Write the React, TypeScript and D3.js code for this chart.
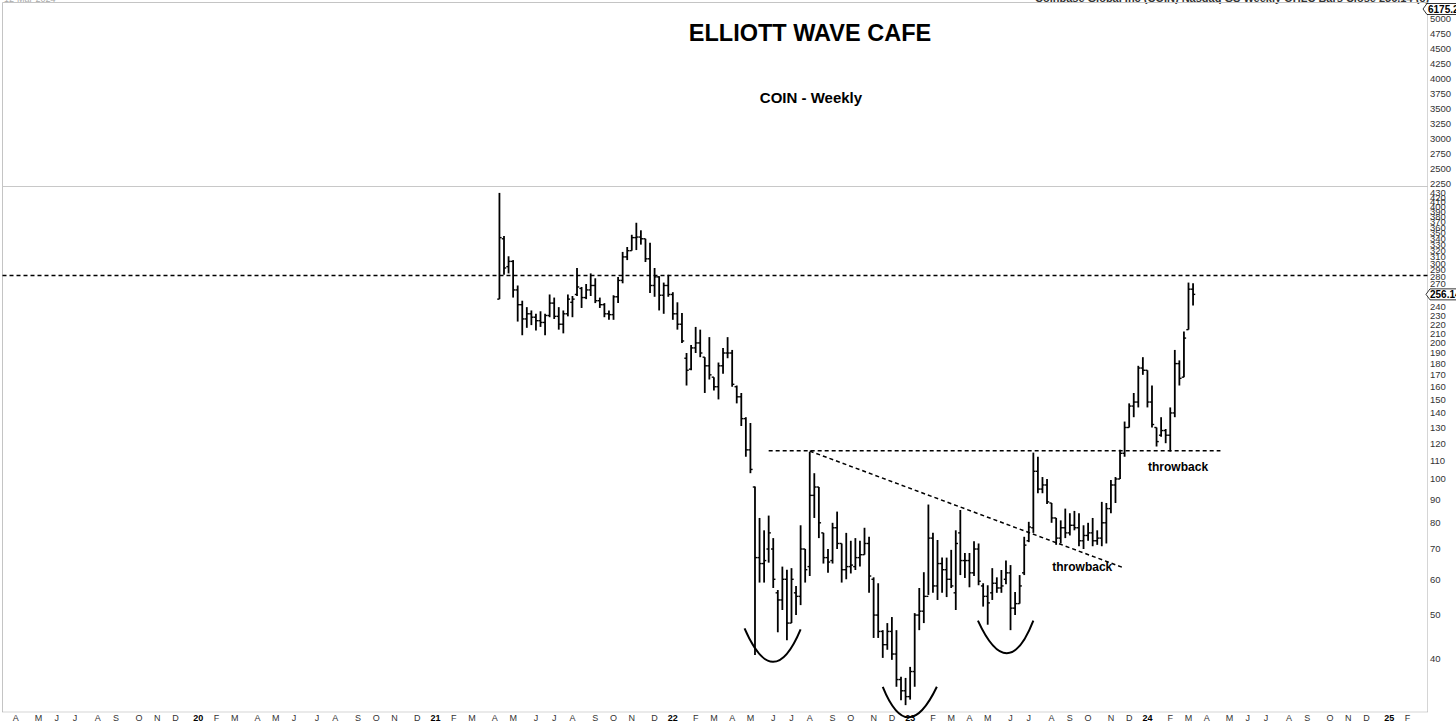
import React from "react";
import * as d3 from "d3";

// ---------- DATA (weekly bars, Monday of each week) ----------
const firstWeek = new Date(2021, 3, 12);
const afterLastWeek = new Date(2024, 2, 12);

const open = [
  250, 340, 295, 303, 262, 243, 226, 232, 228, 224, 222, 230, 245, 229, 220, 232,
  246, 256, 264, 252, 262, 268, 248, 243, 232, 231, 253, 275, 310, 320, 342, 343,
  340, 307, 268, 280, 255, 268,
  256, 232, 220, 185, 175, 195, 200, 186, 178, 168, 160, 178, 190, 190, 160, 152,
  136, 116, 96, 67, 65, 70, 70, 56, 54, 60, 48, 56, 55, 70, 64, 92,
  96, 76, 67, 66, 78, 72, 63, 64, 64, 67, 68, 72, 60, 50, 46, 43,
  46, 41, 36, 34,
  33, 37.5, 50, 51, 55, 74, 58, 65, 63, 60, 56, 76, 66, 66, 62, 70,
  58, 55, 56, 58.8, 57.4, 60, 62, 51.8, 53, 62, 73, 78, 104, 95, 97, 88.5,
  82, 74, 78, 76, 79, 78, 73, 75, 76, 73, 74, 80, 86, 97, 100, 114,
  130, 145, 148, 176,
  174, 148, 130, 125, 128, 125, 140, 180, 168, 214, 263,
];
const high = [
  429.5, 345, 311, 305, 268, 248, 240, 236, 232, 235, 232, 256, 252, 240, 236, 256,
  254, 293, 266, 270, 285, 278, 252, 245, 236, 255, 280, 318, 326, 347, 368.9, 355,
  340, 333, 293, 281, 272, 283,
  259, 246, 233, 190, 198, 217, 214, 186, 206, 168, 181, 195, 206, 193, 161, 155,
  137, 133, 96.2, 82, 77, 83, 74, 56.8, 64, 63, 63.5, 58, 79, 70, 114.8, 103,
  96, 76, 70, 80, 84.7, 72, 76, 73, 74, 73, 78, 74.5, 60.6, 58.8, 46.3, 48,
  49.5, 46.3, 36.5, 36.3,
  38.4, 50.5, 57.4, 62.2, 87.8, 76, 73.3, 67, 67, 69.7, 77, 85.4, 68.6, 68.6, 72.8, 72,
  58.8, 58.2, 63.5, 60.6, 62.9, 66, 64.5, 56.2, 61.3, 74.5, 80.4, 114.4, 112, 101, 100, 88.5,
  82, 81, 86, 84, 85, 84, 79, 80, 82, 77, 89, 88.5, 99.5, 101, 116, 134,
  147, 155, 178, 186,
  174, 161, 130, 137, 129, 144, 193, 183, 212, 272, 271,
];
const low = [
  250, 283, 285, 252, 223, 208, 216, 219, 213, 217, 208, 228, 226, 214, 210, 229,
  228, 254, 239, 250, 254, 245, 239, 228, 225, 225, 245, 271, 305, 320, 321, 330,
  302, 258, 253, 236, 232, 253,
  225, 214, 200, 161, 174, 190, 186, 155, 166, 157, 150, 171, 185, 160, 147, 131,
  112, 103, 40.8, 59, 59, 65.3, 57.4, 45.8, 51.3, 44, 48, 50, 52.6, 59, 61, 82,
  74, 65, 62, 65, 70, 59, 60, 61.8, 62.9, 64, 68, 56, 44.5, 44.5, 40.2, 41.9,
  39.8, 34.7, 32.4, 31.6,
  32.5, 34.7, 46.3, 48, 55.4, 56, 54, 56, 54.8, 57.4, 51.3, 61.3, 60.4, 57.6, 61, 58.2,
  52.2, 47.6, 54, 56, 56, 58.5, 46.3, 50, 53, 61.3, 72.5, 76, 93, 93, 88, 80,
  71.5, 72, 74, 75, 77, 71, 70, 73, 71, 71.5, 71, 72, 84, 88.5, 100, 112,
  130, 137, 144, 170,
  144, 130, 118, 124, 120, 115, 137, 161, 168, 214, 242,
];
const close = [
  342, 293, 303, 262, 243, 226, 232, 228, 224, 222, 230, 245, 229, 220, 232, 250,
  250, 266, 252, 262, 268, 248, 243, 232, 231, 253, 275, 310, 320, 342, 343, 340,
  307, 268, 280, 255, 268, 256,
  232, 220, 202, 174, 195, 200, 190, 178, 170, 160, 178, 190, 190, 162, 152, 136,
  116, 105, 67, 65, 66, 76, 60, 54, 60, 48, 60, 55, 70, 63, 92, 96,
  80, 67, 65.5, 78, 72, 63, 64, 64.5, 67, 68, 72, 61, 50, 46, 43, 46,
  41, 36, 34, 33,
  37.5, 50, 51, 55, 74, 58, 65, 63, 60, 58, 72, 66, 66, 62, 70, 59.4,
  55, 53.2, 58.8, 57.4, 58, 62, 51.8, 53, 58, 71.4, 78.3, 104, 95, 97, 89, 82,
  74, 78, 76, 79, 78, 73, 75, 76, 73, 74, 80, 86, 97, 100, 114, 130,
  145, 148, 176, 174,
  148, 132, 121, 128, 125, 140, 180, 167, 205, 263, 256.14,
];

const lastPrice = 256.14;
const topPanelLast = "6175.2";
const priceTicks = [
  40, 50, 60, 70, 80, 90, 100, 110, 120, 130, 140, 150, 160, 170, 180, 190, 200,
  210, 220, 230, 240, 250, 260, 270, 280, 290, 300, 310, 320, 330, 340, 350, 360,
  370, 380, 390, 400, 410, 420, 430,
];
const topTicks = [2250, 2500, 2750, 3000, 3250, 3500, 3750, 4000, 4250, 4500, 4750, 5000];
const monthLetters = ["J", "F", "M", "A", "M", "J", "J", "A", "S", "O", "N", "D"];

// annotations (date, price)
const resistancePrice = 282;
const neckline = { from: "2022-05-30", to: "2024-04-22", price: 115.5 };
const trendline = [["2022-08-01", 115.3], ["2023-11-27", 63.5]] as [string, number][];
const bowls: [string, number][][] = [
  [["2022-04-23", 46.7], ["2022-06-06", 39.4], ["2022-07-18", 46.5]],
  [["2022-11-21", 34.7], ["2022-12-29", 29.7], ["2023-02-12", 34.7]],
  [["2023-04-16", 48.6], ["2023-06-01", 41.15], ["2023-07-10", 48.6]],
];
const notes = [
  { text: "throwback", date: "2024-02-17", price: 103.9 },
  { text: "throwback", date: "2023-09-23", price: 62.5 },
];

const parse = (s: string) => {
  const [a, b, c] = s.split("-").map(Number);
  return new Date(a, b - 1, c);
};

const FONT = "'Liberation Sans', Arial, Helvetica, sans-serif";

export default function App() {
  const weeks = d3.timeMonday.range(firstWeek, afterLastWeek);
  const x = d3
    .scaleTime()
    .domain([new Date(2020, 0, 1), new Date(2025, 0, 1)])
    .range([195, 195 + 0.6519 * 1827]);
  const y = d3
    .scaleLog()
    .domain([100, 430])
    .range([479, 479 - 452 * Math.log10(4.3)]);
  const yTop = d3.scaleLinear().domain([2250, 5000]).range([183.3, 19]);

  const plotL = 2.5, plotR = 1427.5, plotT = 2.5, plotB = 712, sep = 186.5;

  const months = d3.timeMonth.range(new Date(2019, 3, 1), new Date(2025, 2, 1));
  const yLast = y(lastPrice);
  const visibleTicks = priceTicks.filter((t) => Math.abs(y(t) - yLast) > 6);

  const boxPath = (x0: number, yc: number) =>
    `M${x0},${yc} L${x0 + 4},${yc - 5.5} L1462,${yc - 5.5} L1462,${yc + 5.5} L${x0 + 4},${yc + 5.5} Z`;

  const bowlPath = (pts: [string, number][]) => {
    const p = pts.map(([d, v]) => [x(parse(d)), y(v)]);
    const cx = p[1][0];
    const cy = 2 * p[1][1] - (p[0][1] + p[2][1]) / 2;
    return `M${p[0][0]},${p[0][1]} Q${cx},${cy} ${p[2][0]},${p[2][1]}`;
  };

  return (
    <svg
      width={1456}
      height={725}
      style={{ position: "absolute", left: 0, top: 0, background: "#fff" }}
      fontFamily={FONT}
    >
      <rect x={0} y={0} width={1456} height={725} fill="#fff" />
      {/* clipped header text */}
      <text x={1035} y={2.2} fontSize={11} fontWeight="bold" fill="#333">
        Coinbase Global Inc (COIN) Nasdaq GS  Weekly  OHLC Bars  Close 256.14  (c)
      </text>
      <text x={4} y={1.5} fontSize={9} fill="#aaa">
        12-Mar-2024
      </text>

      {/* frame */}
      <line x1={plotL} y1={plotT} x2={plotR} y2={plotT} stroke="#c4c4c4" />
      <line x1={plotL} y1={plotT} x2={plotL} y2={plotB} stroke="#c4c4c4" />
      <line x1={plotL} y1={sep} x2={plotR} y2={sep} stroke="#c8c8c8" />
      <line x1={plotL} y1={plotB} x2={plotR} y2={plotB} stroke="#aaa" strokeDasharray="1,1" />
      <line x1={plotR} y1={plotT} x2={plotR} y2={plotB} stroke="#aaa" strokeDasharray="1,1" />

      {/* titles */}
      <text x={810} y={41} textAnchor="middle" fontSize={23.5} fontWeight="bold" fill="#000">
        ELLIOTT WAVE CAFE
      </text>
      <text x={811} y={103} textAnchor="middle" fontSize={15} fontWeight="bold" fill="#000">
        COIN - Weekly
      </text>

      {/* top panel axis */}
      {topTicks.map((t) => (
        <text key={t} x={1430} y={yTop(t) + 3.3} fontSize={9.5} fill="#333">
          {t}
        </text>
      ))}
      <path d={boxPath(1423, 9)} fill="#fff" stroke="#000" strokeWidth={0.8} />
      <text x={1428} y={12.6} fontSize={10} fontWeight="bold" fill="#000">
        {topPanelLast}
      </text>

      {/* price axis */}
      {visibleTicks.map((t) => (
        <text key={t} x={1430} y={y(t) + 3.3} fontSize={9.5} fill="#333">
          {t}
        </text>
      ))}
      <path d={boxPath(1426, yLast)} fill="#fff" stroke="#000" strokeWidth={0.8} />
      <text x={1430} y={yLast + 3.6} fontSize={10} fontWeight="bold" fill="#000">
        {lastPrice.toFixed(2)}
      </text>

      {/* x axis labels */}
      {months.map((m) => {
        const mon = d3.timeMonday.ceil(m);
        const isYear = m.getMonth() === 0;
        return (
          <text
            key={+m}
            x={x(mon)}
            y={720.7}
            textAnchor="middle"
            fontSize={9}
            fontWeight={isYear ? "bold" : "normal"}
            fill={isYear ? "#000" : "#333"}
          >
            {isYear ? String(m.getFullYear()).slice(2) : monthLetters[m.getMonth()]}
          </text>
        );
      })}

      {/* resistance & neckline */}
      <line
        x1={plotL}
        x2={plotR}
        y1={y(resistancePrice)}
        y2={y(resistancePrice)}
        stroke="#000"
        strokeWidth={1.5}
        strokeDasharray="4,3"
      />
      <line
        x1={x(parse(neckline.from))}
        x2={x(parse(neckline.to))}
        y1={y(neckline.price)}
        y2={y(neckline.price)}
        stroke="#000"
        strokeWidth={1.5}
        strokeDasharray="4,3"
      />
      <line
        x1={x(parse(trendline[0][0]))}
        y1={y(trendline[0][1])}
        x2={x(parse(trendline[1][0]))}
        y2={y(trendline[1][1])}
        stroke="#000"
        strokeWidth={1.5}
        strokeDasharray="4,3"
      />

      {/* bars */}
      <g stroke="#000">
        {weeks.map((d, i) => {
          if (high[i] === undefined) return null;
          const cx = x(d);
          return (
            <g key={i}>
              <line x1={cx} x2={cx} y1={y(high[i])} y2={y(low[i])} strokeWidth={1.8} />
              <line x1={cx - 2.2} x2={cx} y1={y(open[i])} y2={y(open[i])} strokeWidth={1.4} />
              <line x1={cx} x2={cx + 2.2} y1={y(close[i])} y2={y(close[i])} strokeWidth={1.4} />
            </g>
          );
        })}
      </g>

      {/* bowls */}
      {bowls.map((b, i) => (
        <path key={i} d={bowlPath(b)} fill="none" stroke="#000" strokeWidth={2} />
      ))}

      {/* notes */}
      {notes.map((n, i) => (
        <text
          key={i}
          x={x(parse(n.date))}
          y={y(n.price)}
          textAnchor="middle"
          fontSize={12}
          fontWeight="bold"
          fill="#000"
        >
          {n.text}
        </text>
      ))}
    </svg>
  );
}
